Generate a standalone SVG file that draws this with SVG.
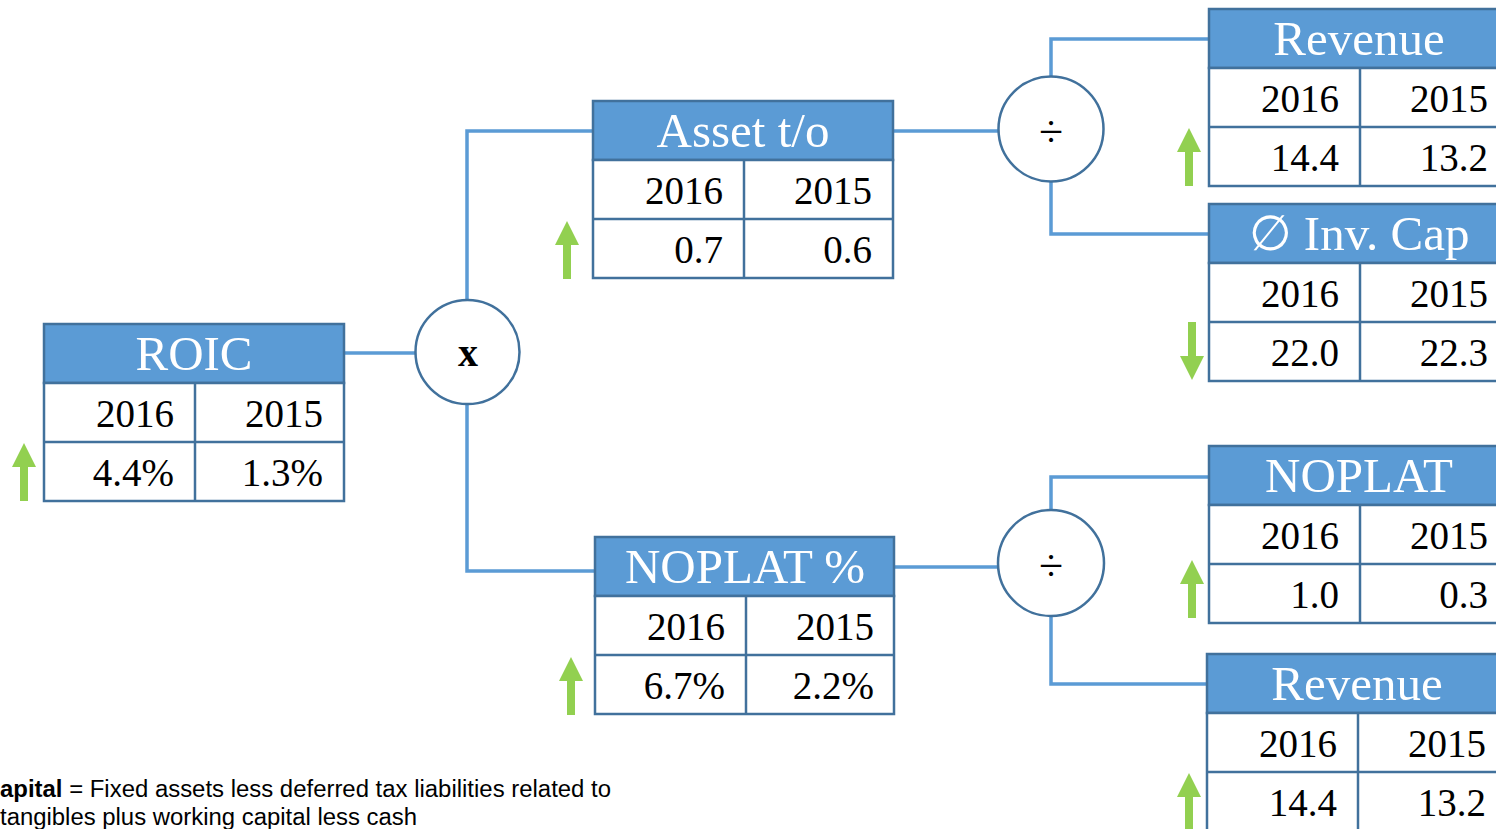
<svg xmlns="http://www.w3.org/2000/svg" width="1496" height="829" viewBox="0 0 1496 829">
<style>
.hdr{fill:#5B9BD5;stroke:#41719C;stroke-width:2.5}
.body{fill:#fff;stroke:#41719C;stroke-width:2.5}
.grid{stroke:#41719C;stroke-width:2.5}
.ht{font-family:"Liberation Serif","DejaVu Serif",serif;font-size:49px;fill:#fff;text-anchor:middle}
.nt{font-family:"Liberation Serif","DejaVu Serif",serif;font-size:39px;fill:#000;text-anchor:end;font-variant-numeric:oldstyle-nums}
.conn{fill:none;stroke:#5B9BD5;stroke-width:3.5}
.op{fill:#fff;stroke:#41719C;stroke-width:2.5}
.opt{font-family:"Liberation Serif","DejaVu Serif",serif;fill:#000;text-anchor:middle}
.arr{fill:#92D050}
.note{font-family:"Liberation Sans","Noto Sans",sans-serif;font-size:23px;fill:#000}
</style>
<defs>
<path id="up" class="arr" d="M0,0 L12,24 L4,24 L4,58 L-4,58 L-4,24 L-12,24 Z"/>
</defs>
<g id="connectors">
<path class="conn" d="M344,353 H416"/>
<path class="conn" d="M467,299 V131 H593"/>
<path class="conn" d="M467,405 V571 H595"/>
<path class="conn" d="M893,131 H999"/>
<path class="conn" d="M1051,77 V39 H1209"/>
<path class="conn" d="M1051,182 V234 H1209"/>
<path class="conn" d="M894,567 H999"/>
<path class="conn" d="M1051,510 V477 H1209"/>
<path class="conn" d="M1051,616 V684 H1207"/>
</g>
<g id="op-x">
<circle class="op" cx="467.5" cy="352" r="52"/>
<text class="opt" x="468" y="366" font-size="40" font-weight="bold">x</text>
</g>
<g id="op-div1">
<circle class="op" cx="1051" cy="129" r="52.5"/>
<text class="opt" x="1051" y="146" font-size="44">÷</text>
</g>
<g id="op-div2">
<circle class="op" cx="1051" cy="563" r="53"/>
<text class="opt" x="1051" y="580" font-size="44">÷</text>
</g>
<g id="roic" transform="translate(44,324)">
<rect class="hdr" x="0" y="0" width="300" height="59"/>
<rect class="body" x="0" y="59" width="300" height="118"/>
<line class="grid" x1="0" y1="118" x2="300" y2="118"/>
<line class="grid" x1="151" y1="59" x2="151" y2="177"/>
<text class="ht" x="150" y="46">ROIC</text>
<text class="nt" x="130" y="103">2016</text><text class="nt" x="279" y="103">2015</text>
<text class="nt" x="130" y="162">4.4%</text><text class="nt" x="279" y="162">1.3%</text>
</g>
<g id="asset-to" transform="translate(593,101)">
<rect class="hdr" x="0" y="0" width="300" height="59"/>
<rect class="body" x="0" y="59" width="300" height="118"/>
<line class="grid" x1="0" y1="118" x2="300" y2="118"/>
<line class="grid" x1="151" y1="59" x2="151" y2="177"/>
<text class="ht" x="150" y="46">Asset t/o</text>
<text class="nt" x="130" y="103">2016</text><text class="nt" x="279" y="103">2015</text>
<text class="nt" x="130" y="162">0.7</text><text class="nt" x="279" y="162">0.6</text>
</g>
<g id="noplat-pct" transform="translate(595,537)">
<rect class="hdr" x="0" y="0" width="299" height="59"/>
<rect class="body" x="0" y="59" width="299" height="118"/>
<line class="grid" x1="0" y1="118" x2="299" y2="118"/>
<line class="grid" x1="151" y1="59" x2="151" y2="177"/>
<text class="ht" x="150" y="46">NOPLAT %</text>
<text class="nt" x="130" y="103">2016</text><text class="nt" x="279" y="103">2015</text>
<text class="nt" x="130" y="162">6.7%</text><text class="nt" x="279" y="162">2.2%</text>
</g>
<g id="revenue-1" transform="translate(1209,9)">
<rect class="hdr" x="0" y="0" width="300" height="59"/>
<rect class="body" x="0" y="59" width="300" height="118"/>
<line class="grid" x1="0" y1="118" x2="300" y2="118"/>
<line class="grid" x1="151" y1="59" x2="151" y2="177"/>
<text class="ht" x="150" y="46">Revenue</text>
<text class="nt" x="130" y="103">2016</text><text class="nt" x="279" y="103">2015</text>
<text class="nt" x="130" y="162">14.4</text><text class="nt" x="279" y="162">13.2</text>
</g>
<g id="inv-cap" transform="translate(1209,204)">
<rect class="hdr" x="0" y="0" width="300" height="59"/>
<rect class="body" x="0" y="59" width="300" height="118"/>
<line class="grid" x1="0" y1="118" x2="300" y2="118"/>
<line class="grid" x1="151" y1="59" x2="151" y2="177"/>
<text class="ht" x="150" y="46">∅ Inv. Cap</text>
<text class="nt" x="130" y="103">2016</text><text class="nt" x="279" y="103">2015</text>
<text class="nt" x="130" y="162">22.0</text><text class="nt" x="279" y="162">22.3</text>
</g>
<g id="noplat" transform="translate(1209,446)">
<rect class="hdr" x="0" y="0" width="300" height="59"/>
<rect class="body" x="0" y="59" width="300" height="118"/>
<line class="grid" x1="0" y1="118" x2="300" y2="118"/>
<line class="grid" x1="151" y1="59" x2="151" y2="177"/>
<text class="ht" x="150" y="46">NOPLAT</text>
<text class="nt" x="130" y="103">2016</text><text class="nt" x="279" y="103">2015</text>
<text class="nt" x="130" y="162">1.0</text><text class="nt" x="279" y="162">0.3</text>
</g>
<g id="revenue-2" transform="translate(1207,654)">
<rect class="hdr" x="0" y="0" width="300" height="59"/>
<rect class="body" x="0" y="59" width="300" height="118"/>
<line class="grid" x1="0" y1="118" x2="300" y2="118"/>
<line class="grid" x1="151" y1="59" x2="151" y2="177"/>
<text class="ht" x="150" y="46">Revenue</text>
<text class="nt" x="130" y="103">2016</text><text class="nt" x="279" y="103">2015</text>
<text class="nt" x="130" y="162">14.4</text><text class="nt" x="279" y="162">13.2</text>
</g>
<g id="trend-arrows">
<use href="#up" x="24" y="443"/>
<use href="#up" x="567" y="221"/>
<use href="#up" x="571" y="657"/>
<use href="#up" x="1189" y="128"/>
<use href="#up" transform="translate(1192,380) scale(1,-1)"/>
<use href="#up" x="1192" y="560"/>
<use href="#up" x="1189" y="773"/>
</g>
<g id="footnote">
<text class="note" x="0" y="797" textLength="611" lengthAdjust="spacingAndGlyphs"><tspan font-weight="bold">apital</tspan> = Fixed assets less deferred tax liabilities related to</text>
<text class="note" x="0" y="825" textLength="417" lengthAdjust="spacingAndGlyphs">tangibles plus working capital less cash</text>
</g>
</svg>
